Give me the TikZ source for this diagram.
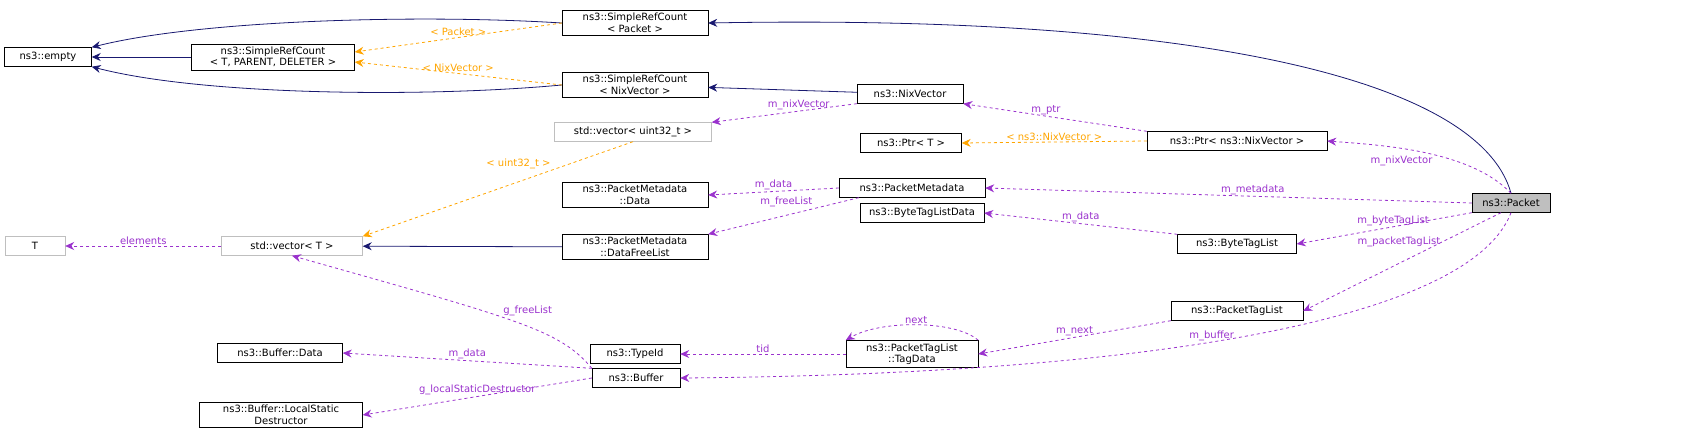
\documentclass[tikz,border=0pt]{standalone}
\usepackage{fontspec}
\setmainfont{DejaVu Sans}
\usetikzlibrary{arrows, arrows.meta, positioning}
\definecolor{navy}{HTML}{191970}
\definecolor{tmpl}{HTML}{FFA500}
\definecolor{usage}{HTML}{9A32CD}
\definecolor{ghost}{HTML}{BFBFBF}
\tikzstyle{cls} = [rectangle, draw=black, fill=white, align=center, inner sep=3pt, minimum height=19pt, font=\fontsize{10}{11.5}\selectfont]
\tikzstyle{ext} = [cls, draw=ghost]
\tikzstyle{inherit} = [navy, thick, ->, >={Stealth[length=9pt, width=8pt]}]
\tikzstyle{inst} = [tmpl, thick, dashed, ->, >={Stealth[length=9pt, width=8pt]}]
\tikzstyle{member} = [usage, thick, dashed, ->, >={Stealth[length=9pt, width=8pt]}]
\tikzstyle{lbl} = [font=\fontsize{10}{11.5}\selectfont, inner sep=1pt]
\begin{document}
\begin{tikzpicture}[x=1pt, y=-1pt]
  \useasboundingbox (0,0) rectangle (1708,445);
  \node (empty) [cls, minimum width=87pt] at (48,57) {ns3::empty};
  \node (srcT) [cls, minimum width=163pt] at (273,57) {ns3::SimpleRefCount\\< T, PARENT, DELETER >};
  \node (srcPkt) [cls, minimum width=146pt] at (635,23) {ns3::SimpleRefCount\\< Packet >};
  \node (srcNix) [cls, minimum width=146pt] at (635,85) {ns3::SimpleRefCount\\< NixVector >};
  \node (nix) [cls, minimum width=106pt] at (910,94) {ns3::NixVector};
  \node (vecU) [ext, minimum width=157pt] at (633,132) {std::vector< uint32\_t >};
  \node (ptrT) [cls, minimum width=101pt] at (911,143) {ns3::Ptr< T >};
  \node (ptrNix) [cls, minimum width=180pt] at (1237,141) {ns3::Ptr< ns3::NixVector >};
  \node (pmData) [cls, minimum width=146pt] at (635,195) {ns3::PacketMetadata\\::Data};
  \node (pm) [cls, minimum width=146pt] at (912,188) {ns3::PacketMetadata};
  \node (pkt) [cls, fill=ghost, minimum width=78pt] at (1511,203) {ns3::Packet};
  \node (tT) [ext, minimum width=60pt] at (35,246) {T};
  \node (vecT) [ext, minimum width=141pt] at (292,246) {std::vector< T >};
  \node (pmFree) [cls, minimum width=146pt] at (635,247) {ns3::PacketMetadata\\::DataFreeList};
  \node (btlData) [cls, minimum width=124pt] at (922,213) {ns3::ByteTagListData};
  \node (btl) [cls, minimum width=119pt] at (1237,244) {ns3::ByteTagList};
  \node (tagData) [cls, minimum width=132pt] at (912,354) {ns3::PacketTagList\\::TagData};
  \node (typeId) [cls, minimum width=90pt] at (635,354) {ns3::TypeId};
  \node (ptl) [cls, minimum width=132pt] at (1237,311) {ns3::PacketTagList};
  \node (bufData) [cls, minimum width=125pt] at (280,353) {ns3::Buffer::Data};
  \node (bufLsd) [cls, minimum width=163pt] at (281,415) {ns3::Buffer::LocalStatic\\Destructor};
  \node (buf) [cls, minimum width=88pt] at (636,378) {ns3::Buffer};

  \draw [inherit] (srcT) -- (empty);
  \draw [inherit] (srcPkt.west) .. controls (420,14) and (200,20) .. (empty.north east);
  \draw [inherit] (srcNix.west) .. controls (420,98) and (200,95) .. (empty.south east);
  \draw [inst] (srcPkt.west) -- node [lbl, above, pos=0.5] {< Packet >} ([yshift=5pt]srcT.east);
  \draw [inst] (srcNix.west) -- node [lbl, above, pos=0.5] {< NixVector >} ([yshift=-5pt]srcT.east);
  \draw [inherit] (pkt.north) .. controls (1480,80) and (1200,14) .. (srcPkt.east);
  \draw [inherit] (nix) -- (srcNix);
  \draw [member] (nix.south west) -- node [lbl, above, pos=0.4] {m\_nixVector} (vecU.north east);
  \draw [member] (ptrNix.north west) -- node [lbl, above, pos=0.55] {m\_ptr} (nix.south east);
  \draw [inst] (ptrNix.west) -- node [lbl, above, pos=0.5] {< ns3::NixVector >} (ptrT.east);
  \draw [member] (pkt.north) .. controls (1470,150) and (1380,145) .. node [lbl, below left, pos=0.45] {m\_nixVector} (ptrNix.east);
  \draw [inst] (vecU.south) -- node [lbl, above left, pos=0.3] {< uint32\_t >} (vecT.north east);
  \draw [member] (pm.west) -- node [lbl, above, pos=0.5] {m\_data} (pmData.east);
  \draw [member] ([xshift=20pt]pm.south west) -- node [lbl, above left, pos=0.3] {m\_freeList} (pmFree.north east);
  \draw [member] (pkt.west) -- node [lbl, above, pos=0.45] {m\_metadata} (pm.east);
  \draw [inherit] (pmFree) -- (vecT);
  \draw [member] (vecT) -- node [lbl, above] {elements} (tT);
  \draw [member] (buf.north west) .. controls (560,330) and (520,320) .. node [lbl, above right, pos=0.55] {g\_freeList} (vecT.south);
  \draw [member] (btl.north west) -- node [lbl, above, pos=0.5] {m\_data} (btlData.east);
  \draw [member] (pkt.south west) -- node [lbl, above, pos=0.45] {m\_byteTagList} (btl.east);
  \draw [member] ([xshift=-10pt]pkt.south) -- node [lbl, left, pos=0.3] {m\_packetTagList} (ptl.east);
  \draw [member] (ptl.south west) -- node [lbl, above, pos=0.5] {m\_next} (tagData.east);
  \draw [member] (tagData.north east) .. controls (955,320) and (880,320) .. node [lbl, above, pos=0.5] {next} (tagData.north west);
  \draw [member] (tagData.west) -- node [lbl, above] {tid} (typeId.east);
  \draw [member] (pkt.south) .. controls (1470,320) and (1150,374) .. node [lbl, above, pos=0.55] {m\_buffer} (buf.east);
  \draw [member] (buf.north west) -- node [lbl, above, pos=0.5] {m\_data} (bufData.east);
  \draw [member] (buf.west) -- node [lbl, above, pos=0.5] {g\_localStaticDestructor} (bufLsd.east);
\end{tikzpicture}
\end{document}
